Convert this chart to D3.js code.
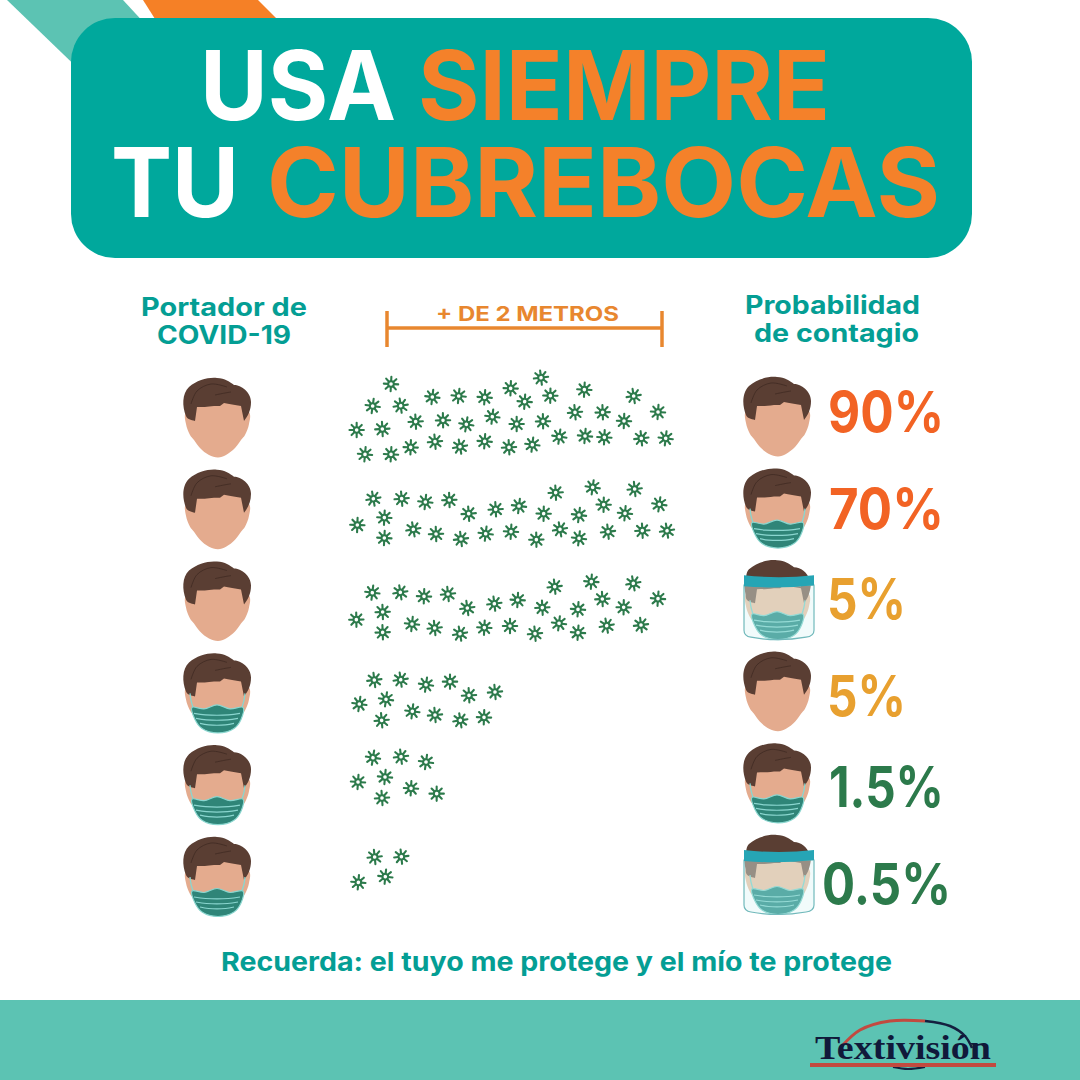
<!DOCTYPE html>
<html lang="es">
<head>
<meta charset="utf-8">
<title>Usa siempre tu cubrebocas</title>
<script src="https://cdn.jsdelivr.net/npm/d3@7/dist/d3.min.js"></script>
<style>
html,body{margin:0;padding:0;background:#fff}
svg{display:block}
text{font-family:Inter,"Open Sans",sans-serif}
</style>
</head>
<body>
<div id="chart"></div>
<script>
// ---- data ----
const rows = [0, 1, 2, 3, 4, 5];
const carrierProtection = ["none", "none", "none", "mask", "mask", "mask"];
const receiverProtection = ["none", "mask", "shield", "none", "mask", "shield"];
const contagionProbability = [90, 70, 5, 5, 1.5, 0.5];
const rowOrigins = [360, 470, 470, 660, 660, 660];
const dropletsRow1 = [[153,72],[98,138],[182,137],[50,210],[127,207],[75,283],[153,283],[212,262],[227,185],[277,111],[356,108],[434,112],[309,181],[379,193],[457,170],[285,245],[360,260],[434,244],[512,85],[554,125],[603,53],[631,107],[530,192],[609,184],[507,262],[577,254],[658,230],[733,89],[705,157],[788,157],[735,228],[793,232],[852,183],[881,108],[954,156],[904,235],[977,235]];
const dropletsRow2 = [[100,86],[185,86],[256,96],[328,90],[52,165],[133,143],[133,204],[220,178],[288,192],[363,207],[386,131],[467,118],[537,108],[437,191],[513,185],[611,131],[589,209],[647,68],[660,178],[717,135],[717,205],[758,52],[791,104],[804,185],[855,130],[884,57],[958,103],[907,182],[981,182]];
const dropletsRow3 = [[97,368],[181,367],[252,379],[324,372],[49,449],[128,426],[128,487],[216,462],[284,474],[360,491],[382,414],[463,401],[533,390],[433,473],[510,468],[607,413],[585,491],[644,350],[657,460],[714,418],[714,488],[754,335],[787,387],[800,467],[851,412],[880,340],[954,386],[903,465]];
const dropletsRow4 = [[103,60],[182,59],[258,74],[330,65],[58,132],[138,118],[125,181],[217,154],[285,165],[361,181],[387,106],[465,96],[432,172]];
const dropletsRow5 = [[99,293],[183,290],[258,306],[54,366],[135,351],[126,414],[213,385],[290,401]];
const dropletsRow6 = [[104,591],[184,590],[55,667],[136,650]];
const droplets = [dropletsRow1, dropletsRow2, dropletsRow3, dropletsRow4, dropletsRow5, dropletsRow6];
const titleWords = ["USA", "SIEMPRE", "TU", "CUBREBOCAS"];
const carrierHeader = ["Portador de", "COVID-19"];
const probabilityHeader = ["Probabilidad", "de contagio"];
const distanceLabel = "+ DE 2 METROS";
const footnote = "Recuerda: el tuyo me protege y el mío te protege";
const brand = "Textivisión";

// ---- palette ----
const TEAL = "#00A89C", TEAL_TEXT = "#049E94", LIGHT_TEAL = "#5CC3B3", ORANGE = "#F58026";
const SKIN = "#E4AB8E", HAIR = "#5A3E33", MASK = "#2F8578", MASK_LINE = "#8AD6CF", GREEN = "#2C7A4B";

const svg = d3.select("#chart").append("svg").attr("width", 1080).attr("height", 1080).attr("viewBox", "0 0 1080 1080");
svg.append("rect").attr("width", 1080).attr("height", 1080).attr("fill", "#fff");
const line = d3.line();
const smooth = d3.line().curve(d3.curveCatmullRomClosed.alpha(0.5));
const open = d3.line().curve(d3.curveCatmullRom.alpha(0.5));

// ---- corner stripes, banner, footer ----
svg.append("path").attr("d", line([[7,0],[123,0],[160,40],[90,80]]) + "Z").attr("fill", LIGHT_TEAL);
svg.append("path").attr("d", line([[143,0],[258,0],[278,20],[278,30],[162,30]]) + "Z").attr("fill", ORANGE);
svg.append("rect").attr("x", 71).attr("y", 18).attr("width", 901).attr("height", 240).attr("rx", 44).attr("fill", TEAL);
svg.append("rect").attr("x", 0).attr("y", 1000).attr("width", 1080).attr("height", 80).attr("fill", LIGHT_TEAL);

// ---- title ----
const titleLayout = [
  {x: 200, y: 120, w: 196, c: "#fff"}, {x: 418, y: 120, w: 412, c: "#F4812A"},
  {x: 111, y: 217, w: 128, c: "#fff"}, {x: 267, y: 217, w: 673, c: "#F4812A"}];
svg.selectAll("text.title").data(titleWords).join("text").attr("class", "title")
  .attr("x", (d, i) => titleLayout[i].x).attr("y", (d, i) => titleLayout[i].y)
  .attr("textLength", (d, i) => titleLayout[i].w).attr("lengthAdjust", "spacingAndGlyphs")
  .attr("font-size", 96).attr("font-weight", 700).attr("fill", (d, i) => titleLayout[i].c).text(d => d);

// ---- headers ----
function header(lines, xs, ws, ys) {
  svg.selectAll(null).data(lines).join("text").attr("x", (d, i) => xs[i]).attr("y", (d, i) => ys[i])
    .attr("textLength", (d, i) => ws[i]).attr("lengthAdjust", "spacingAndGlyphs")
    .attr("font-size", 25).attr("font-weight", 700)
    .attr("fill", TEAL_TEXT).text(d => d);
}
header(carrierHeader, [141, 157], [166, 134], [316, 344]);
header(probabilityHeader, [745, 754], [175, 165], [314, 342]);

const bracket = svg.append("g").attr("stroke", "#E8872F").attr("stroke-width", 3.5).attr("fill", "none");
bracket.append("path").attr("d", line([[387,311],[387,347]]));
bracket.append("path").attr("d", line([[662,311],[662,347]]));
bracket.append("path").attr("d", line([[387,328],[662,328]]));
svg.append("text").attr("x", 436).attr("y", 321).attr("textLength", 183).attr("lengthAdjust", "spacingAndGlyphs")
  .attr("font-size", 20).attr("font-weight", 700).attr("fill", "#E8872F").text(distanceLabel);

// ---- faces ----
const hairPath = "M-22,3 C-26,2 -30,1 -31,-2 C-35,-12 -35,-24 -28,-31 C-20,-38 -8,-41 0,-40 C8,-40 13,-36 17,-33 C24,-33 34,-26 34,-16 C34,-8 31,-2 27,3 L24,-12 C18,-13 12,-14 7,-15 L3,-12 L-3,-12 C-10,-11 -15,-11 -20,-11 Z";
const hairTopPath = "M-31,-20 C-31,-26 -30,-29 -28,-31 C-20,-38 -8,-41 0,-40 C8,-40 13,-36 17,-33 C24,-33 30,-28 33,-20 Z";
const hairSidePath = "M-22,3 C-26,2 -30,1 -31,-2 L-33,-16 L-20,-16 L-20,-11 Z M27,3 C31,-2 33,-8 34,-16 L24,-16 L24,-12 Z M-20,-14 L24,-14 L24,-12 C18,-13 12,-14 7,-15 L3,-12 L-3,-12 C-10,-11 -15,-11 -20,-11 Z";
function drawFace(g, kind) {
  const shield = kind === "shield";
  const skin = shield ? "#ECC8AE" : SKIN;
  g.append("path").attr("fill", skin)
    .attr("d", smooth([[-31,-6],[-31,6],[-27,17],[-23,22],[-17,30],[-8,37],[1,39.5],[9,37],[18,30],[24,22],[28,17],[32,6],[32,-6],[0,-20]]));
  if (shield) {
    g.append("path").attr("fill", HAIR).attr("d", hairTopPath);
    g.append("path").attr("fill", "#8C7568").attr("d", hairSidePath);
  } else {
    g.append("path").attr("fill", HAIR).attr("d", hairPath);
    g.append("path").attr("fill", "none").attr("stroke", "#3F2A22").attr("stroke-width", 0.8)
      .attr("d", open([[-26,-14],[-20,-27],[-6,-34],[10,-31]]));
    g.append("path").attr("fill", "none").attr("stroke", "#3F2A22").attr("stroke-width", 0.8)
      .attr("d", open([[-2,-23],[8,-25],[14,-26]]));
  }
  if (kind !== "none") {
    g.append("path").attr("fill", "none").attr("stroke", MASK_LINE).attr("stroke-width", 1.3)
      .attr("d", open([[-27,0],[-26,7],[-24,14]]));
    g.append("path").attr("fill", "none").attr("stroke", MASK_LINE).attr("stroke-width", 1.3)
      .attr("d", open([[28,0],[27,7],[25,14]]));
    g.append("path").attr("fill", shield ? "#3E9A94" : MASK).attr("stroke", MASK_LINE).attr("stroke-width", 1.2)
      .attr("d", smooth([[-25,14],[-13,15.5],[0,11.5],[13,15.5],[26,14],[24,26],[17,35],[1,39.5],[-15,35],[-22,26]]));
    [20, 25, 30].forEach((y, i) => {
      const w = [23, 21, 17][i];
      g.append("path").attr("fill", "none").attr("stroke", MASK_LINE).attr("stroke-width", 1.2)
        .attr("d", open([[-w, y],[-w / 2, y + 1.5],[w / 2, y + 1.5],[w, y]]));
    });
  }
  if (shield) {
    g.append("path").attr("fill", "rgba(190,235,235,0.22)").attr("stroke", "#71B9BB").attr("stroke-width", 1.2)
      .attr("d", "M-33,-15 L-33,30 Q-33,36 -26,37 Q1,42 29,37 Q37,36 37,30 L37,-15 Z");
    g.append("path").attr("fill", "#26A5B5")
      .attr("d", "M-33,-25 Q2,-21 37,-25 L37,-15 Q2,-11 -33,-14 Z");
  }
}
const leftY = d3.scalePoint().domain(rows).range([418, 877]);
const rightY = d3.scalePoint().domain(rows).range([417, 875]);
svg.selectAll("g.carrier").data(rows).join("g").attr("class", "carrier")
  .attr("transform", d => `translate(217,${leftY(d)})`)
  .each(function(d) { drawFace(d3.select(this), carrierProtection[d]); });
svg.selectAll("g.receiver").data(rows).join("g").attr("class", "receiver")
  .attr("transform", d => `translate(777,${rightY(d)})`)
  .each(function(d) { drawFace(d3.select(this), receiverProtection[d]); });

// ---- droplets ----
const dropX = d3.scaleLinear().domain([0, 1020]).range([340, 680]);
const dropY = d3.scaleLinear().domain([0, 1020]).range([0, 340]);
const spokes = d3.range(8).map(i => i * Math.PI / 4).map(a => {
  const c = Math.cos(a), s = Math.sin(a);
  return `M${(3 * c).toFixed(2)},${(3 * s).toFixed(2)}L${(7.2 * c).toFixed(2)},${(7.2 * s).toFixed(2)}`;
}).join("");
droplets.forEach((points, r) => {
  const g = svg.append("g");
  const nodes = g.selectAll("g").data(points).join("g")
    .attr("transform", d => `translate(${dropX(d[0])},${rowOrigins[r] + dropY(d[1])}) rotate(${(d[0] % 20) - 10})`);
  nodes.append("path").attr("d", spokes).attr("stroke", GREEN).attr("stroke-width", 2.1).attr("stroke-linecap", "round").attr("fill", "none");
  nodes.append("circle").attr("r", 2.8).attr("fill", "#fff").attr("stroke", GREEN).attr("stroke-width", 2);
});

// ---- probabilities ----
const probColor = d3.scaleThreshold().domain([3, 50]).range([GREEN, "#E8A02F", "#F26324"]);
const labelX = [828, 829, 827, 827, 829, 822];
const labelW = [116, 115, 79, 79, 115, 129];
const labelY = [432, 529, 619, 716, 807, 904];
svg.selectAll("text.prob").data(contagionProbability).join("text").attr("class", "prob")
  .attr("x", (d, i) => labelX[i]).attr("y", (d, i) => labelY[i])
  .attr("textLength", (d, i) => labelW[i]).attr("lengthAdjust", "spacingAndGlyphs")
  .attr("font-size", 56).attr("font-weight", 700).attr("fill", d => probColor(d)).text(d => d + "%");

// ---- footnote ----
svg.append("text").attr("x", 221).attr("y", 971).attr("textLength", 671).attr("lengthAdjust", "spacingAndGlyphs")
  .attr("font-size", 26).attr("font-weight", 700).attr("fill", TEAL_TEXT).text(footnote);

// ---- brand ----
svg.append("path").attr("fill", "none").attr("stroke", "#C24A40").attr("stroke-width", 3)
  .attr("d", open([[842,1046],[860,1030],[890,1021],[925,1021]]));
svg.append("path").attr("fill", "none").attr("stroke", "#14203F").attr("stroke-width", 2.5)
  .attr("d", open([[925,1021],[950,1026],[965,1036],[972,1048]]));
svg.append("path").attr("fill", "none").attr("stroke", "#14203F").attr("stroke-width", 2)
  .attr("d", open([[893,1067],[908,1069],[925,1067]]));
svg.append("text").attr("x", 815).attr("y", 1059).attr("textLength", 176).attr("lengthAdjust", "spacingAndGlyphs")
  .attr("font-size", 33).attr("font-weight", 700).attr("fill", "#10193A")
  .style("font-family", '"Liberation Serif",serif').text(brand);
svg.append("rect").attr("x", 810).attr("y", 1063).attr("width", 186).attr("height", 4).attr("fill", "#C24A40");
</script>
</body>
</html>
